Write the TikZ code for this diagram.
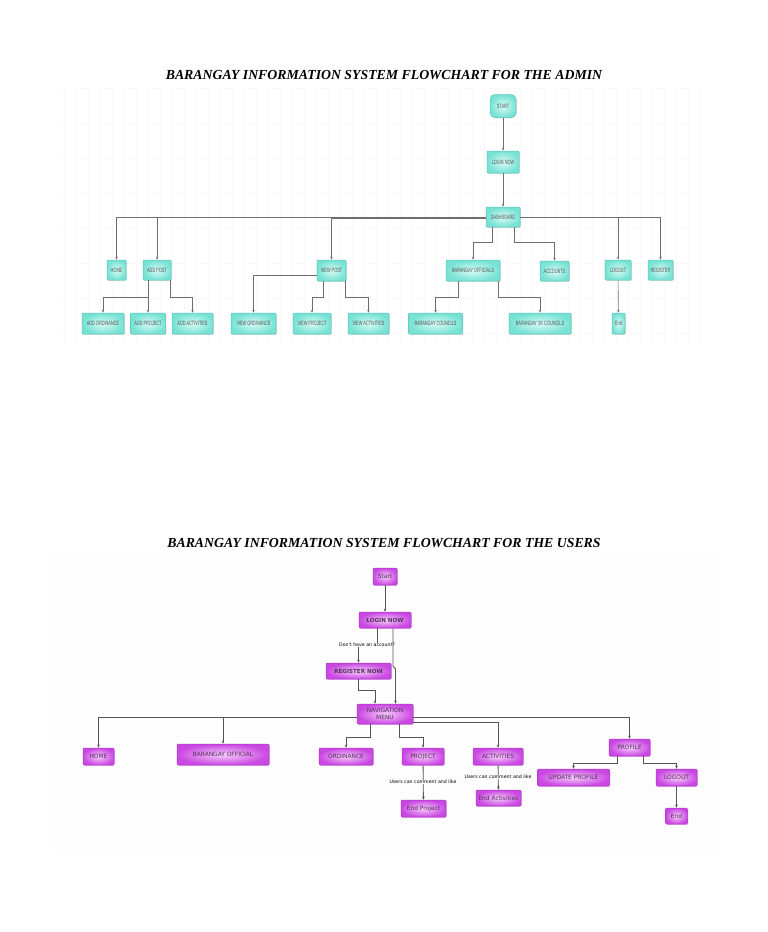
\documentclass[tikz,border=0pt]{standalone}
\usepackage{fontspec}
\setmainfont{Liberation Serif}
\newfontfamily\topfont[FakeStretch=0.62]{Liberation Sans}
\newfontfamily\botfont{DejaVu Sans}
\usetikzlibrary{arrows.meta,shadows}
\definecolor{tinner}{RGB}{218,251,246}
\definecolor{touter}{RGB}{118,226,212}
\definecolor{tborder}{RGB}{88,196,184}
\definecolor{ttext}{RGB}{80,80,80}
\definecolor{binner}{RGB}{247,205,251}
\definecolor{bouter}{RGB}{202,72,226}
\definecolor{bborder}{RGB}{172,52,198}
\definecolor{btext}{RGB}{80,50,90}
\definecolor{tline}{RGB}{110,110,110}
\definecolor{bline}{RGB}{85,85,85}
\definecolor{gridc}{RGB}{249,249,249}
\definecolor{bgc}{RGB}{253,253,253}
\begin{document}
\begin{tikzpicture}[x=1pt,y=-1pt,
  tbox/.style 2 args={draw=tborder, line width=0.5pt, inner color=tinner, outer color=touter,
    rounded corners=1pt, minimum width=#1pt, minimum height=#2pt, inner sep=0pt, align=center,
    font=\topfont\fontsize{6.2}{6.6}\selectfont, text=ttext,
    drop shadow={shadow xshift=0.8pt, shadow yshift=-0.8pt, opacity=0.25}},
  bbox/.style 2 args={draw=bborder, line width=0.5pt, inner color=binner, outer color=bouter,
    rounded corners=1.2pt, minimum width=#1pt, minimum height=#2pt, inner sep=0pt, align=center,
    font=\botfont\fontsize{5.9}{6.6}\selectfont, text=btext,
    drop shadow={shadow xshift=0.8pt, shadow yshift=-0.8pt, opacity=0.3, fill=bborder}},
  tarr/.style={draw=tline, line width=0.6pt, -{Stealth[length=3pt,width=2.4pt]}},
  barr/.style={draw=bline, line width=0.8pt, -{Stealth[length=3.2pt,width=2.6pt]}},
  lbl/.style={fill=bgc, inner sep=0.6pt, font=\botfont\fontsize{4.7}{5}\selectfont, text=black},
  title/.style={font=\bfseries\itshape\fontsize{13.8}{15}\selectfont, text=black}
]
\fill[white] (0,0) rectangle (768,932);
\useasboundingbox (0,0) rectangle (768,932);

% faint backgrounds
\foreach \gx in {64,76,...,700} \draw[gridc, line width=0.3pt] (\gx,88) -- (\gx,345);
\foreach \gy in {88,123,...,345} \draw[gridc, line width=0.3pt] (60,\gy) -- (700,\gy);
\fill[bgc] (55,552) rectangle (720,850);

% ---------------- ADMIN ----------------
\node[title] (t1) at (384,75) {BARANGAY INFORMATION SYSTEM FLOWCHART FOR THE ADMIN};

\node[tbox={26}{23}, rounded corners=5pt] (start) at (503,106) {START};
\node[tbox={32}{22}] (login) at (503,162) {LOGIN NOW};
\node[tbox={34}{20}] (dash) at (503,217) {DASHBOARD};

\node[tbox={19}{20}] (home) at (116.5,270) {HOME};
\node[tbox={28}{20}] (addpost) at (157,270) {ADD POST};
\node[tbox={29}{21}] (viewpost) at (331.5,270.5) {VIEW POST};
\node[tbox={54}{21}] (bofficials) at (473,270.5) {BARANGAY OFFICIALS};
\node[tbox={29}{20}] (accounts) at (554.5,271) {ACCOUNTS};
\node[tbox={26}{20}] (logout) at (618,270) {LOGOUT};
\node[tbox={25}{20}] (register) at (660.5,270) {REGISTER};

\node[tbox={42}{21}] (addord) at (103,323.5) {ADD ORDINANCE};
\node[tbox={35}{21}] (addproj) at (148,323.5) {ADD PROJECT};
\node[tbox={41}{21}] (addact) at (192.5,323.5) {ADD ACTIVITIES};
\node[tbox={45}{21}] (vieword) at (253.5,323.5) {VIEW ORDINANCE};
\node[tbox={38}{21}] (viewproj) at (312,323.5) {VIEW PROJECT};
\node[tbox={41}{21}] (viewact) at (368.5,323.5) {VIEW ACTIVITIES};
\node[tbox={54}{21}] (bcouncils) at (435.5,323.5) {BARANGAY COUNCILS};
\node[tbox={62}{21}] (bsk) at (540,323.5) {BARANGAY SK COUNCILS};
\node[tbox={13}{21}] (end1) at (618.5,323.5) {End};

\draw[tarr] (start) -- (login);
\draw[tarr] (login) -- (dash);
\draw[tarr] (dash.west) -| (home);
\draw[tarr] (dash.west) -| (addpost);
\draw[tarr] ([yshift=-1pt]dash.west) -| (viewpost);
\draw[tarr] (dash.east) -| (logout);
\draw[tarr] (dash.east) -| (register);
\draw[tarr] ([xshift=-11pt]dash.south) -- ++(0,15) -| (bofficials);
\draw[tarr] ([xshift=11pt]dash.south) -- ++(0,15) -| (accounts);

\draw[tarr] ([xshift=-9pt]addpost.south) -- ++(0,17) -| (addord);
\draw[tarr] (addpost.south -| addproj.north) -- (addproj.north);
\draw[tarr] ([xshift=13pt]addpost.south) -- ++(0,17) -| (addact);

\draw[tarr] ([yshift=-5pt]viewpost.west) -| (vieword);
\draw[tarr] ([xshift=-8.5pt]viewpost.south) -- ++(0,16.5) -| (viewproj);
\draw[tarr] ([xshift=14pt]viewpost.south) -- ++(0,16.5) -| (viewact);

\draw[tarr] ([xshift=-15pt]bofficials.south) -- ++(0,16.5) -| (bcouncils);
\draw[tarr] ([xshift=25pt]bofficials.south) -- ++(0,16.5) -| (bsk);

\draw[tarr] (logout) -- (end1);

% ---------------- USERS ----------------
\node[title] (t2) at (384,543) {BARANGAY INFORMATION SYSTEM FLOWCHART FOR THE USERS};

\node[bbox={24}{17}] (ustart) at (385,576.5) {Start};
\node[bbox={52}{16}, font=\botfont\bfseries\fontsize{5.6}{6.2}\selectfont] (ulogin) at (385,620) {LOGIN NOW};
\node[bbox={65}{16}, font=\botfont\bfseries\fontsize{5.6}{6.2}\selectfont] (uregister) at (358.5,671) {REGISTER NOW};
\node[bbox={56}{20}] (nav) at (385,714) {NAVIGATION\\MENU};

\node[bbox={31}{17}] (uhome) at (98.5,756.5) {HOME};
\node[bbox={92}{21}] (bofficial) at (223,754.5) {BARANGAY OFFICIAL};
\node[bbox={54}{17}] (uord) at (346,756.5) {ORDINANCE};
\node[bbox={42}{17}] (uproj) at (423,756.5) {PROJECT};
\node[bbox={50}{17}] (uact) at (498,756.5) {ACTIVITIES};
\node[bbox={45}{17}] (endproj) at (423.5,808.5) {End Project};
\node[bbox={45}{16}] (endact) at (498.5,798) {End Activities};
\node[bbox={41}{17}] (profile) at (629.5,747.5) {PROFILE};
\node[bbox={72}{17}] (updprof) at (573.5,777.5) {UPDATE PROFILE};
\node[bbox={41}{17}] (ulogout) at (676.5,777.5) {LOGOUT};
\node[bbox={22}{16}] (uend) at (676.5,816) {End};

\draw[barr] (ustart) -- (ulogin);
\draw[barr] ([xshift=-8pt]ulogin.south) -- ++(0,17) -| (uregister);
\node[lbl] (q1) at (367,645) {Don't have an account?};
\draw[barr] ([xshift=8pt]ulogin.south) -- ++(0,38) -- ++(2.5,2.5) coordinate (q2) -- (q2 |- nav.north);
\draw[barr] ([xshift=-0.5pt]uregister.south) -- ++(0,11) -| ([xshift=-10pt]nav.north);

\draw[barr] ([yshift=-3pt]nav.west) -| (uhome);
\draw[barr] ([yshift=-3pt]nav.west) -| (bofficial);
\draw[barr] ([yshift=-3pt]nav.east) -| (profile);
\draw[barr] ([yshift=-8pt]nav.east) -| (uact);
\draw[barr] ([xshift=-15pt]nav.south) -- ++(0,13) -| (uord);
\draw[barr] ([xshift=14pt]nav.south) -- ++(0,13) -| (uproj);

\draw[barr] (uproj) -- (endproj);
\node[lbl] (c1) at (423,782) {Users can comment and like};
\draw[barr] (uact) -- (endact);
\node[lbl] (c2) at (498,777) {Users can comment and like};

\draw[barr] ([xshift=-12.5pt]profile.south) -- ++(0,7) -| (updprof);
\draw[barr] ([xshift=13.5pt]profile.south) -- ++(0,7) -| (ulogout);
\draw[barr] (ulogout) -- (uend);
\end{tikzpicture}
\end{document}
